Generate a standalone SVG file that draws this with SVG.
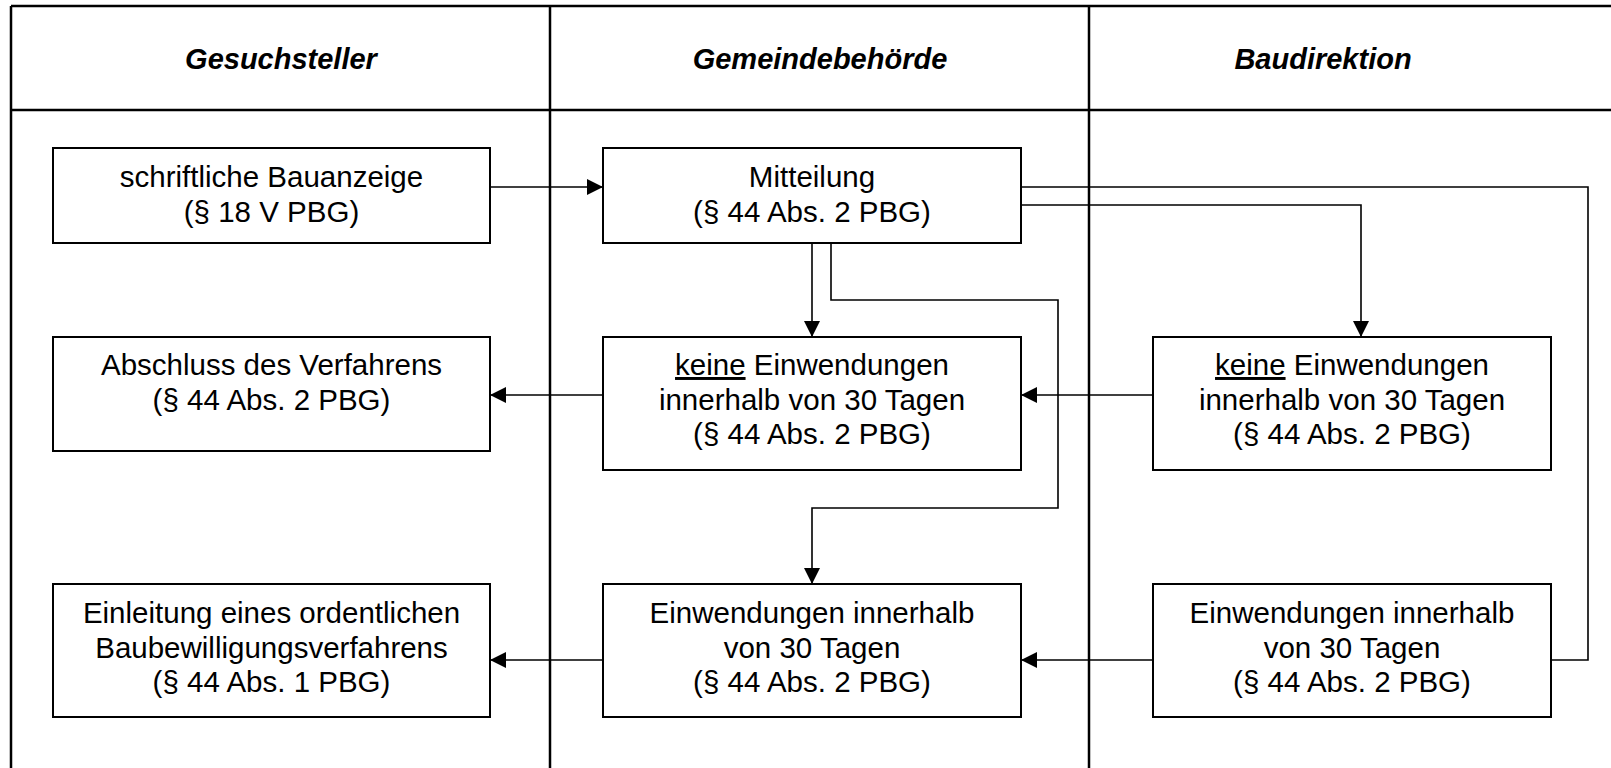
<svg xmlns="http://www.w3.org/2000/svg" width="1611" height="768" viewBox="0 0 1611 768">
<style>
.tbl{stroke:#000;stroke-width:2.5;fill:none}
.box{fill:#fff;stroke:#000;stroke-width:2}
.con{fill:none;stroke:#000;stroke-width:1.6}
.hd{font-family:"Liberation Sans",Arial,sans-serif;font-size:29px;font-weight:bold;font-style:italic;text-anchor:middle;fill:#000}
.t{font-family:"Liberation Sans",Arial,sans-serif;font-size:29.5px;text-anchor:middle;fill:#000}
.u{text-decoration:underline}
</style>
<defs>
<marker id="ah" markerUnits="userSpaceOnUse" markerWidth="16" markerHeight="16" refX="16" refY="8" orient="auto">
<path d="M0,0 L16,8 L0,16 z" fill="#000"/>
</marker>
</defs>
<rect width="1611" height="768" fill="#fff"/>
<g id="table">
<line class="tbl" x1="11" y1="6" x2="1611" y2="6"/>
<line class="tbl" x1="11" y1="110" x2="1611" y2="110"/>
<line class="tbl" x1="11" y1="6" x2="11" y2="768"/>
<line class="tbl" x1="550" y1="6" x2="550" y2="768"/>
<line class="tbl" x1="1089" y1="6" x2="1089" y2="768"/>
<text class="hd" x="281" y="69">Gesuchsteller</text>
<text class="hd" x="820" y="69">Gemeindebehörde</text>
<text class="hd" x="1323" y="69">Baudirektion</text>
</g>
<g id="connectors">
<path class="con" d="M490,187 H603" marker-end="url(#ah)"/>
<path class="con" d="M1021,187 H1588 V660 H1551"/>
<path class="con" d="M1021,205 H1361 V337" marker-end="url(#ah)"/>
<path class="con" d="M812,243 V337" marker-end="url(#ah)"/>
<path class="con" d="M831,243 V300 H1058 V508 H812 V584" marker-end="url(#ah)"/>
<path class="con" d="M1153,395 H1021" marker-end="url(#ah)"/>
<path class="con" d="M603,395 H490" marker-end="url(#ah)"/>
<path class="con" d="M1153,660 H1021" marker-end="url(#ah)"/>
<path class="con" d="M603,660 H490" marker-end="url(#ah)"/>
</g>
<g id="bauanzeige">
<rect class="box" x="53" y="148" width="437" height="95"/>
<text class="t" x="271.5" y="187">schriftliche Bauanzeige</text>
<text class="t" x="271.5" y="221.5">(§ 18 V PBG)</text>
</g>
<g id="mitteilung">
<rect class="box" x="603" y="148" width="418" height="95"/>
<text class="t" x="812" y="187">Mitteilung</text>
<text class="t" x="812" y="221.5">(§ 44 Abs. 2 PBG)</text>
</g>
<g id="abschluss">
<rect class="box" x="53" y="337" width="437" height="114"/>
<text class="t" x="271.5" y="375">Abschluss des Verfahrens</text>
<text class="t" x="271.5" y="409.5">(§ 44 Abs. 2 PBG)</text>
</g>
<g id="gemeinde-keine">
<rect class="box" x="603" y="337" width="418" height="133"/>
<text class="t" x="812" y="375"><tspan class="u">keine</tspan> Einwendungen</text>
<text class="t" x="812" y="409.5">innerhalb von 30 Tagen</text>
<text class="t" x="812" y="444">(§ 44 Abs. 2 PBG)</text>
</g>
<g id="baudir-keine">
<rect class="box" x="1153" y="337" width="398" height="133"/>
<text class="t" x="1352" y="375"><tspan class="u">keine</tspan> Einwendungen</text>
<text class="t" x="1352" y="409.5">innerhalb von 30 Tagen</text>
<text class="t" x="1352" y="444">(§ 44 Abs. 2 PBG)</text>
</g>
<g id="einleitung">
<rect class="box" x="53" y="584" width="437" height="133"/>
<text class="t" x="271.5" y="623">Einleitung eines ordentlichen</text>
<text class="t" x="271.5" y="657.5">Baubewilligungsverfahrens</text>
<text class="t" x="271.5" y="692">(§ 44 Abs. 1 PBG)</text>
</g>
<g id="gemeinde-einw">
<rect class="box" x="603" y="584" width="418" height="133"/>
<text class="t" x="812" y="623">Einwendungen innerhalb</text>
<text class="t" x="812" y="657.5">von 30 Tagen</text>
<text class="t" x="812" y="692">(§ 44 Abs. 2 PBG)</text>
</g>
<g id="baudir-einw">
<rect class="box" x="1153" y="584" width="398" height="133"/>
<text class="t" x="1352" y="623">Einwendungen innerhalb</text>
<text class="t" x="1352" y="657.5">von 30 Tagen</text>
<text class="t" x="1352" y="692">(§ 44 Abs. 2 PBG)</text>
</g>
</svg>
